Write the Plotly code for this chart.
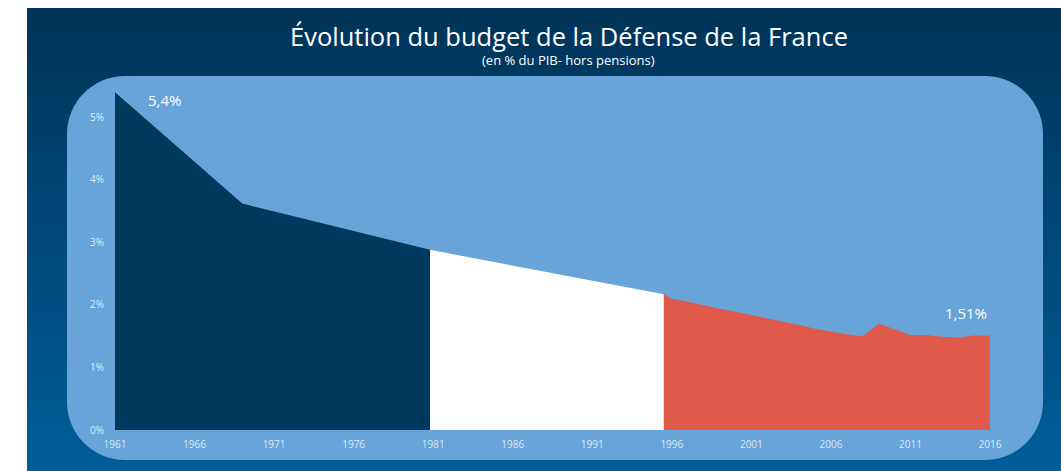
import plotly.graph_objects as go

# ---- data ----
years_navy = [1961, 1969, 1980.8]
vals_navy = [5.40, 3.62, 2.88]

years_white = [1980.8, 1995.5]
vals_white = [2.88, 2.17]

years_red = [1995.5, 1996, 1997, 1998, 1999, 2000, 2001, 2002, 2003, 2004, 2005,
             2006, 2007, 2008, 2009, 2010, 2011, 2012, 2013, 2014, 2015, 2016]
vals_red = [2.17, 2.10, 2.05, 1.99, 1.94, 1.89, 1.84, 1.78, 1.73, 1.68, 1.62,
            1.57, 1.53, 1.50, 1.70, 1.61, 1.52, 1.52, 1.49, 1.48, 1.51, 1.51]

x_ticks = [1961, 1966, 1971, 1976, 1981, 1986, 1991, 1996, 2001, 2006, 2011, 2016]
y_ticks = [0, 1, 2, 3, 4, 5]
y_ticklabels = ["0%", "1%", "2%", "3%", "4%", "5%"]

title_text = "Évolution du budget de la Défense de la France"
subtitle_text = "(en % du PIB- hors pensions)"

# ---- layout geometry ----
W, H = 1061, 471
ML, MR, MT, MB = 115, 71, 86, 41
PW, PH = W - ML - MR, H - MT - MB


def px(x):
    return (x - ML) / PW


def py(y):
    return (H - MB - y) / PH


fig = go.Figure()

NAVY = "#00395e"
RED = "#e05a4b"
PANEL = "#68a4d8"

for xs, ys, col in [(years_navy, vals_navy, NAVY),
                    (years_white, vals_white, "#ffffff"),
                    (years_red, vals_red, RED)]:
    fig.add_trace(go.Scatter(x=xs, y=ys, mode="lines", fill="tozeroy",
                             fillcolor=col, line=dict(width=0, color=col),
                             hoverinfo="skip", showlegend=False))

shapes = []
# gradient background
top_c = (0, 52, 88)
bot_c = (0, 93, 154)
y0, y1 = 8, H
n = 48
step = (y1 - y0) / n
for i in range(n):
    t = i / (n - 1)
    c = tuple(int(round(top_c[k] + (bot_c[k] - top_c[k]) * t)) for k in range(3))
    ya = y0 + i * step
    yb = ya + step + 0.8
    shapes.append(dict(type="rect", xref="paper", yref="paper", layer="below",
                       x0=px(27), x1=px(W + 2), y0=py(ya), y1=py(min(yb, H + 2)),
                       fillcolor="rgb(%d,%d,%d)" % c, line=dict(width=0)))

# rounded panel
L, R, T, B, r = 67, 1043, 76, 460, 58
k = 0.5523 * r
pts = [
    ("M", [(L + r, T)]),
    ("L", [(R - r, T)]),
    ("C", [(R - r + k, T), (R, T + r - k), (R, T + r)]),
    ("L", [(R, B - r)]),
    ("C", [(R, B - r + k), (R - r + k, B), (R - r, B)]),
    ("L", [(L + r, B)]),
    ("C", [(L + r - k, B), (L, B - r + k), (L, B - r)]),
    ("L", [(L, T + r)]),
    ("C", [(L, T + r - k), (L + r - k, T), (L + r, T)]),
]
path = ""
for cmd, ps in pts:
    path += cmd + " " + " ".join("%.5f,%.5f" % (px(a), py(b)) for a, b in ps) + " "
path += "Z"
shapes.append(dict(type="path", xref="paper", yref="paper", layer="below",
                   path=path, fillcolor=PANEL, line=dict(width=0)))

TICKCOL = "#dce9f6"
fig.update_layout(
    width=W, height=H,
    margin=dict(l=ML, r=MR, t=MT, b=MB),
    paper_bgcolor="#ffffff",
    plot_bgcolor="rgba(0,0,0,0)",
    shapes=shapes,
    showlegend=False,
    xaxis=dict(range=[1961, 2016], tickvals=x_ticks, showgrid=False, zeroline=False,
               showline=False, ticks="outside", ticklen=5, tickcolor="rgba(0,0,0,0)",
               tickfont=dict(family="Liberation Sans Narrow, Open Sans", size=10, color=TICKCOL),
               fixedrange=True),
    yaxis=dict(range=[0, 5.5], tickvals=y_ticks, ticktext=y_ticklabels, showgrid=False,
               zeroline=False, showline=False, ticks="outside", ticklen=8,
               tickcolor="rgba(0,0,0,0)",
               tickfont=dict(family="Liberation Sans Narrow, Open Sans", size=10, color=TICKCOL),
               fixedrange=True),
    annotations=[
        dict(text=title_text, xref="paper", yref="paper", x=px(569), y=py(36),
             showarrow=False, font=dict(family="Open Sans", size=25.5, color="#ffffff"),
             xanchor="center", yanchor="middle"),
        dict(text=subtitle_text, xref="paper", yref="paper", x=px(568), y=py(60),
             showarrow=False, font=dict(family="Open Sans", size=13, color="#ffffff"),
             xanchor="center", yanchor="middle"),
        dict(text="5,4%", xref="x", yref="y", x=1964.1, y=5.27, showarrow=False,
             font=dict(family="Open Sans", size=15, color="#ffffff"),
             xanchor="center", yanchor="middle"),
        dict(text="1,51%", xref="x", yref="y", x=2014.5, y=1.87, showarrow=False,
             font=dict(family="Open Sans", size=15, color="#ffffff"),
             xanchor="center", yanchor="middle"),
    ],
)

fig.write_html("out.html", config={"displayModeBar": False})
